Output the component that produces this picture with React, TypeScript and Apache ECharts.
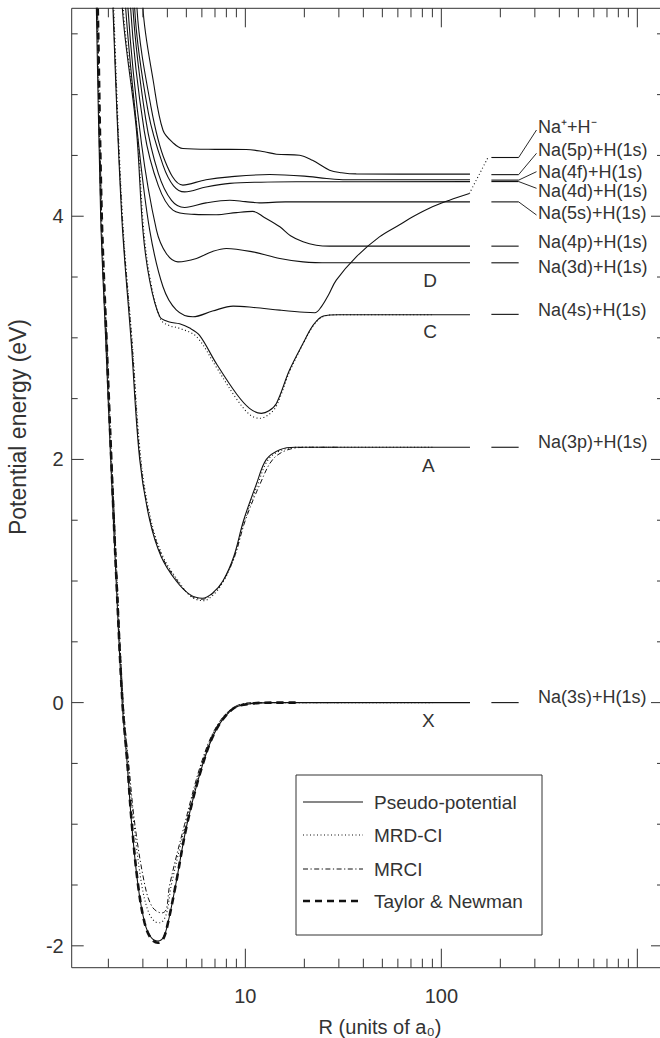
import React, { useEffect, useRef } from 'react';
import * as echarts from 'echarts';

// ---------- axis ranges ----------
const X_MIN = 1.3;
const X_MAX = 1352;
const Y_MIN = -2.18;
const Y_MAX = 5.71;

// ---------- tick values ----------
const X_MAJOR = [10, 100, 1000];
const X_MINOR = [2, 3, 4, 5, 6, 7, 8, 9, 20, 30, 40, 50, 60, 70, 80, 90, 200, 300, 400, 500, 600, 700, 800, 900];
const Y_MAJOR = [-2, 0, 2, 4];
const Y_MINOR = [-1.5, -1, -0.5, 0.5, 1, 1.5, 2.5, 3, 3.5, 4.5, 5, 5.5];

// ---------- potential curves [R (a0), E (eV)] ----------
// Pseudo-potential (solid)
const X_PP = [[1.70, 6.3], [1.737, 5.71], [1.827, 4.0], [1.937, 3.0], [2.055, 2.0], [2.192, 1.0], [2.352, 0.0], [2.494, -0.5], [2.63, -1.0], [2.832, -1.5], [3.063, -1.81], [3.3, -1.93], [3.58, -1.96], [3.82, -1.93], [4.03, -1.81], [4.41, -1.5], [5.04, -1.0], [6.08, -0.5], [7.11, -0.22], [8.65, -0.05], [10.5, -0.01], [14, 0], [30, 0], [140, 0]];
const A_PP = [[2.07, 6.3], [2.111, 5.71], [2.34, 4.0], [2.62, 2.95], [2.89, 2.0], [3.25, 1.5], [3.72, 1.2], [4.44, 1.0], [5.2, 0.89], [6.03, 0.858], [6.8, 0.9], [7.68, 1.0], [8.72, 1.2], [9.8, 1.5], [11.4, 1.8], [12.8, 2.0], [15, 2.08], [18, 2.10], [140, 2.10]];
const C_PP = [[2.31, 6.3], [2.357, 5.71], [2.78, 4.71], [3.0, 3.886], [3.25, 3.47], [3.66, 3.173], [4.1, 3.13], [4.62, 3.115], [5.2, 3.08], [5.84, 3.02], [7.1, 2.79], [9.0, 2.54], [10.5, 2.42], [12.07, 2.379], [13.2, 2.40], [14.4, 2.46], [16.8, 2.735], [19.7, 2.955], [22.2, 3.105], [25, 3.18], [30, 3.19], [140, 3.19]];
const ION_PP = [[2.40, 6.3], [2.451, 5.71], [2.85, 4.6], [3.25, 3.886], [3.8, 3.42], [4.44, 3.23], [5.4, 3.173], [6.8, 3.22], [8.66, 3.261], [11, 3.25], [15, 3.228], [20, 3.21], [22.6, 3.206], [24.4, 3.255], [26.5, 3.35], [29.1, 3.475], [36.8, 3.666], [48.3, 3.83], [61.2, 3.93], [71.5, 3.995], [90, 4.077], [110, 4.132], [139, 4.187]];
const D_PP = [[2.47, 6.3], [2.518, 5.71], [2.95, 4.6], [3.52, 3.886], [3.95, 3.694], [4.53, 3.625], [5.63, 3.653], [6.8, 3.71], [8.0, 3.735], [10.9, 3.707], [15, 3.653], [19.7, 3.625], [26.9, 3.617], [140, 3.617]];
const E_PP = [[2.55, 6.3], [2.598, 5.71], [3.05, 4.7], [3.6, 4.25], [4.27, 4.05], [5.5, 4.015], [7.1, 4.012], [9.0, 4.03], [10.9, 4.04], [12.5, 3.99], [15, 3.913], [17, 3.84], [19.7, 3.79], [23, 3.762], [26.9, 3.754], [140, 3.754]];
const F_PP = [[2.62, 6.3], [2.67, 5.71], [3.1, 4.8], [3.6, 4.35], [4.2, 4.13], [4.9, 4.072], [6.3, 4.11], [8.33, 4.132], [10, 4.12], [11.8, 4.11], [16, 4.118], [140, 4.118]];
const G_PP = [[2.68, 6.3], [2.724, 5.71], [3.2, 4.85], [3.8, 4.42], [4.3, 4.25], [4.9, 4.2], [6.3, 4.24], [8.33, 4.27], [12, 4.28], [18.2, 4.283], [140, 4.285]];
const H_PP = [[2.75, 6.3], [2.799, 5.71], [3.3, 4.9], [3.9, 4.45], [4.8, 4.256], [6.3, 4.30], [8.33, 4.324], [13.3, 4.343], [20, 4.33], [26, 4.31], [32.7, 4.30], [140, 4.30]];
const I_PP = [[2.95, 6.3], [3.003, 5.71], [3.4, 5.1], [3.8, 4.707], [4.3, 4.6], [4.8, 4.557], [7, 4.55], [10.1, 4.549], [12.5, 4.53], [14.4, 4.51], [18.9, 4.502], [22, 4.46], [26.9, 4.379], [31, 4.358], [36.8, 4.348], [140, 4.346]];
const ION_TAIL = [[139, 4.187], [173, 4.483]];

// MRD-CI (dotted)
const X_MRDCI = [[1.72, 6.3], [1.75, 5.71], [1.84, 4.0], [1.95, 3.0], [2.07, 2.0], [2.21, 1.0], [2.37, 0.0], [2.52, -0.5], [2.70, -1.0], [2.96, -1.5], [3.2, -1.72], [3.45, -1.80], [3.67, -1.81], [3.95, -1.74], [4.19, -1.5], [4.96, -1.0], [6.0, -0.5], [7.1, -0.21], [8.7, -0.05], [10.5, -0.01], [14, 0], [90, 0]];
const A_MRDCI = [[2.09, 6.3], [2.13, 5.71], [2.36, 4.0], [2.65, 2.95], [2.93, 2.0], [3.3, 1.5], [3.8, 1.2], [4.55, 1.0], [5.3, 0.87], [6.1, 0.838], [6.9, 0.89], [7.75, 1.0], [8.8, 1.2], [9.9, 1.5], [11.6, 1.8], [13.1, 2.0], [15.5, 2.08], [19, 2.10], [90, 2.10]];
const C_MRDCI = [[2.33, 6.3], [2.38, 5.71], [2.8, 4.71], [3.03, 3.886], [3.3, 3.45], [3.7, 3.15], [4.1, 3.10], [4.62, 3.078], [5.63, 3.01], [7.1, 2.76], [9.0, 2.50], [10.5, 2.37], [11.8, 2.338], [13.2, 2.37], [14.4, 2.44], [16.8, 2.72], [19.7, 2.95], [22.2, 3.10], [25, 3.175], [30, 3.19], [90, 3.19]];

// MRCI (dash-dot)
const X_MRCI = [[1.73, 6.3], [1.76, 5.71], [1.85, 4.0], [1.96, 3.0], [2.08, 2.0], [2.22, 1.0], [2.38, 0.0], [2.54, -0.5], [2.73, -1.0], [3.07, -1.5], [3.35, -1.68], [3.75, -1.73], [3.95, -1.70], [4.11, -1.5], [4.9, -1.0], [5.95, -0.5], [7.1, -0.2], [8.7, -0.04], [11, 0], [30, 0]];
const A_MRCI = [[2.09, 6.3], [2.12, 5.71], [2.35, 4.0], [2.64, 2.95], [2.91, 2.0], [3.27, 1.5], [3.76, 1.2], [4.5, 1.0], [5.25, 0.88], [6.05, 0.85], [6.85, 0.9], [7.7, 1.0], [8.8, 1.2], [10.0, 1.5], [11.9, 1.8], [13.8, 2.0], [16.5, 2.08], [21, 2.10], [30, 2.10]];

// Taylor & Newman (thick dashed)
const X_TN = [[1.73, 6.3], [1.765, 5.71], [1.85, 4.0], [1.955, 3.0], [2.07, 2.0], [2.2, 1.0], [2.36, 0.0], [2.5, -0.5], [2.635, -1.0], [2.835, -1.5], [3.06, -1.81], [3.3, -1.94], [3.58, -1.975], [3.82, -1.94], [4.03, -1.81], [4.41, -1.5], [5.04, -1.0], [6.08, -0.5], [7.11, -0.22], [8.65, -0.05], [10.5, -0.01], [14, 0], [19, 0]];

// ---------- asymptotic limits ----------
const LEVEL_NAMES = ['Na⁺+H⁻', 'Na(5p)+H(1s)', 'Na(4f)+H(1s)', 'Na(4d)+H(1s)', 'Na(5s)+H(1s)', 'Na(4p)+H(1s)', 'Na(3d)+H(1s)', 'Na(4s)+H(1s)', 'Na(3p)+H(1s)', 'Na(3s)+H(1s)'];
const LEVEL_E = [4.483, 4.342, 4.297, 4.285, 4.118, 3.754, 3.617, 3.193, 2.10, 0];

const STATE_NAMES = ['D', 'C', 'A', 'X'];
const LEGEND_NAMES = ['Pseudo-potential', 'MRD-CI', 'MRCI', 'Taylor & Newman'];

// ---------- layout (pixels) ----------
const FONT = '"Liberation Sans", Arial, Helvetica, sans-serif';
const TXT = '#333';
const INK = '#111';
const LEVEL_R = [180, 248];
const LABEL_X = 538;
const LABEL_Y = [127, 150, 171.7, 191, 213.3, 241.7, 266.7, 310, 441.7, 696.7];
const CONNECT_Y = [130, 153.3, 171.7, 188.3, 215, null, null, null, null, null];
const STATE_POS = [[430, 280], [430, 331.7], [428.3, 465], [428.3, 720]];
const LEG = { x: 296, y: 775, w: 246, h: 160, lx1: 303, lx2: 363, tx: 374, ys: [802, 835, 869, 901] };

const STYLES: Record<string, any> = {
  solid: { color: INK, width: 1.1, type: 'solid' },
  dotted: { color: INK, width: 1.1, type: [1, 2.5] },
  dashdot: { color: INK, width: 1.0, type: [5, 2.5, 1.2, 2.5] },
  thick: { color: INK, width: 2.6, type: [7, 5] },
};

function lineSeries(data: number[][], style: string, z = 2) {
  return {
    type: 'line',
    data,
    showSymbol: false,
    symbol: 'none',
    smooth: 0.35,
    silent: true,
    clip: true,
    z,
    lineStyle: { ...STYLES[style] },
  };
}

function buildOption() {
  const tickData: number[][] = [
    ...X_MAJOR.map((v) => [v, 0, 0]),
    ...X_MINOR.map((v) => [v, 0, 1]),
    ...Y_MAJOR.map((v) => [10, v, 2]),
    ...Y_MINOR.map((v) => [10, v, 3]),
  ];

  const tickSeries = {
    type: 'custom',
    silent: true,
    z: 10,
    data: tickData,
    encode: { x: 0, y: 1 },
    renderItem: (params: any, api: any) => {
      const kind = api.value(2);
      const sys = params.coordSys;
      const p = api.coord([api.value(0), api.value(1)]);
      const st = { stroke: '#333', lineWidth: 1 };
      const bottom = sys.y + sys.height;
      const right = sys.x + sys.width;
      if (kind === 0 || kind === 1) {
        const len = kind === 0 ? 19 : 9;
        return {
          type: 'group',
          children: [
            { type: 'line', shape: { x1: p[0], y1: bottom, x2: p[0], y2: bottom - len }, style: st },
            { type: 'line', shape: { x1: p[0], y1: sys.y, x2: p[0], y2: sys.y + len }, style: st },
          ],
        };
      }
      const len = kind === 2 ? 12 : 6;
      return {
        type: 'group',
        children: [
          { type: 'line', shape: { x1: sys.x, y1: p[1], x2: sys.x + len, y2: p[1] }, style: st },
          { type: 'line', shape: { x1: right, y1: p[1], x2: right - len, y2: p[1] }, style: st },
        ],
      };
    },
  };

  const levelSeries = {
    type: 'custom',
    silent: true,
    z: 5,
    data: LEVEL_E.map((e) => [LEVEL_R[0], e]),
    encode: { x: 0, y: 1 },
    renderItem: (params: any, api: any) => {
      const i = params.dataIndex;
      const e = api.value(1);
      const p1 = api.coord([LEVEL_R[0], e]);
      const p2 = api.coord([LEVEL_R[1], e]);
      const children: any[] = [
        { type: 'line', shape: { x1: p1[0], y1: p1[1], x2: p2[0], y2: p2[1] }, style: { stroke: INK, lineWidth: 1.1 } },
        {
          type: 'text',
          x: LABEL_X,
          y: LABEL_Y[i],
          style: { text: LEVEL_NAMES[i], fontSize: 18, fontFamily: FONT, fill: TXT, align: 'left', verticalAlign: 'middle' },
        },
      ];
      const cy = CONNECT_Y[i];
      if (cy !== null && cy !== undefined) {
        children.push({ type: 'line', shape: { x1: p2[0], y1: p2[1], x2: LABEL_X - 1.5, y2: cy }, style: { stroke: INK, lineWidth: 0.9 } });
      }
      return { type: 'group', children };
    },
  };

  const graphic: any[] = [];
  // axis titles
  graphic.push({
    type: 'text', x: 380, y: 1027,
    style: { text: 'R (units of a₀)', fontSize: 20, fontFamily: FONT, fill: TXT, align: 'center', verticalAlign: 'middle' },
  });
  graphic.push({
    type: 'text', x: 18, y: 427, rotation: Math.PI / 2,
    style: { text: 'Potential energy (eV)', fontSize: 23, fontFamily: FONT, fill: TXT, align: 'center', verticalAlign: 'middle' },
  });
  // state letters
  STATE_NAMES.forEach((s, i) => {
    graphic.push({
      type: 'text', x: STATE_POS[i][0], y: STATE_POS[i][1],
      style: { text: s, fontSize: 19, fontFamily: FONT, fill: TXT, align: 'center', verticalAlign: 'middle' },
    });
  });
  // legend
  graphic.push({
    type: 'rect', z: 50,
    shape: { x: LEG.x, y: LEG.y, width: LEG.w, height: LEG.h },
    style: { fill: '#fff', stroke: '#333', lineWidth: 1 },
  });
  const legStyles = ['solid', 'dotted', 'dashdot', 'thick'];
  LEGEND_NAMES.forEach((name, i) => {
    const s = STYLES[legStyles[i]];
    graphic.push({
      type: 'line', z: 51,
      shape: { x1: LEG.lx1, y1: LEG.ys[i], x2: LEG.lx2, y2: LEG.ys[i] },
      style: { stroke: s.color, lineWidth: s.width, lineDash: s.type === 'solid' ? null : s.type },
    });
    graphic.push({
      type: 'text', z: 51, x: LEG.tx, y: LEG.ys[i],
      style: { text: name, fontSize: 19, fontFamily: FONT, fill: TXT, align: 'left', verticalAlign: 'middle' },
    });
  });

  return {
    animation: false,
    backgroundColor: '#fff',
    grid: { left: 71.7, top: 8.3, right: 1, bottom: 70.3, show: true, borderColor: '#333', borderWidth: 1, backgroundColor: 'transparent' },
    xAxis: {
      type: 'log',
      logBase: 10,
      min: X_MIN,
      max: X_MAX,
      axisLine: { show: false },
      axisTick: { show: false },
      splitLine: { show: false },
      axisLabel: {
        showMinLabel: false,
        showMaxLabel: false,
        fontSize: 20,
        fontFamily: FONT,
        color: TXT,
        margin: 18,
        formatter: (v: number) => {
          const l = Math.log10(v);
          return Math.abs(l - Math.round(l)) < 1e-6 && v < 500 ? String(Math.round(v)) : '';
        },
      },
    },
    yAxis: {
      type: 'value',
      min: Y_MIN,
      max: Y_MAX,
      axisLine: { show: false },
      axisTick: { show: false },
      splitLine: { show: false },
      axisLabel: {
        showMinLabel: false,
        showMaxLabel: false,
        fontSize: 20,
        fontFamily: FONT,
        color: TXT,
        margin: 8,
        formatter: (v: number) => (Math.abs(v / 2 - Math.round(v / 2)) < 1e-6 ? String(Math.round(v)) : ''),
      },
    },
    graphic,
    series: [
      lineSeries(X_PP, 'solid'),
      lineSeries(A_PP, 'solid'),
      lineSeries(C_PP, 'solid'),
      lineSeries(ION_PP, 'solid'),
      lineSeries(D_PP, 'solid'),
      lineSeries(E_PP, 'solid'),
      lineSeries(F_PP, 'solid'),
      lineSeries(G_PP, 'solid'),
      lineSeries(H_PP, 'solid'),
      lineSeries(I_PP, 'solid'),
      lineSeries(ION_TAIL, 'dotted'),
      lineSeries(X_MRDCI, 'dotted'),
      lineSeries(A_MRDCI, 'dotted'),
      lineSeries(C_MRDCI, 'dotted'),
      lineSeries(X_MRCI, 'dashdot'),
      lineSeries(A_MRCI, 'dashdot'),
      lineSeries(X_TN, 'thick', 3),
      levelSeries,
      tickSeries,
    ],
  };
}

export default function App() {
  const ref = useRef<HTMLDivElement>(null);
  useEffect(() => {
    if (!ref.current) return;
    const chart = echarts.init(ref.current, null, { renderer: 'svg' });
    chart.setOption(buildOption() as any);
    return () => chart.dispose();
  }, []);
  return (
    <div style={{ position: 'absolute', left: 0, top: 0, width: 660, height: 1038, overflow: 'hidden', background: '#fff' }}>
      <div ref={ref} style={{ width: 664, height: 1038 }} />
    </div>
  );
}
